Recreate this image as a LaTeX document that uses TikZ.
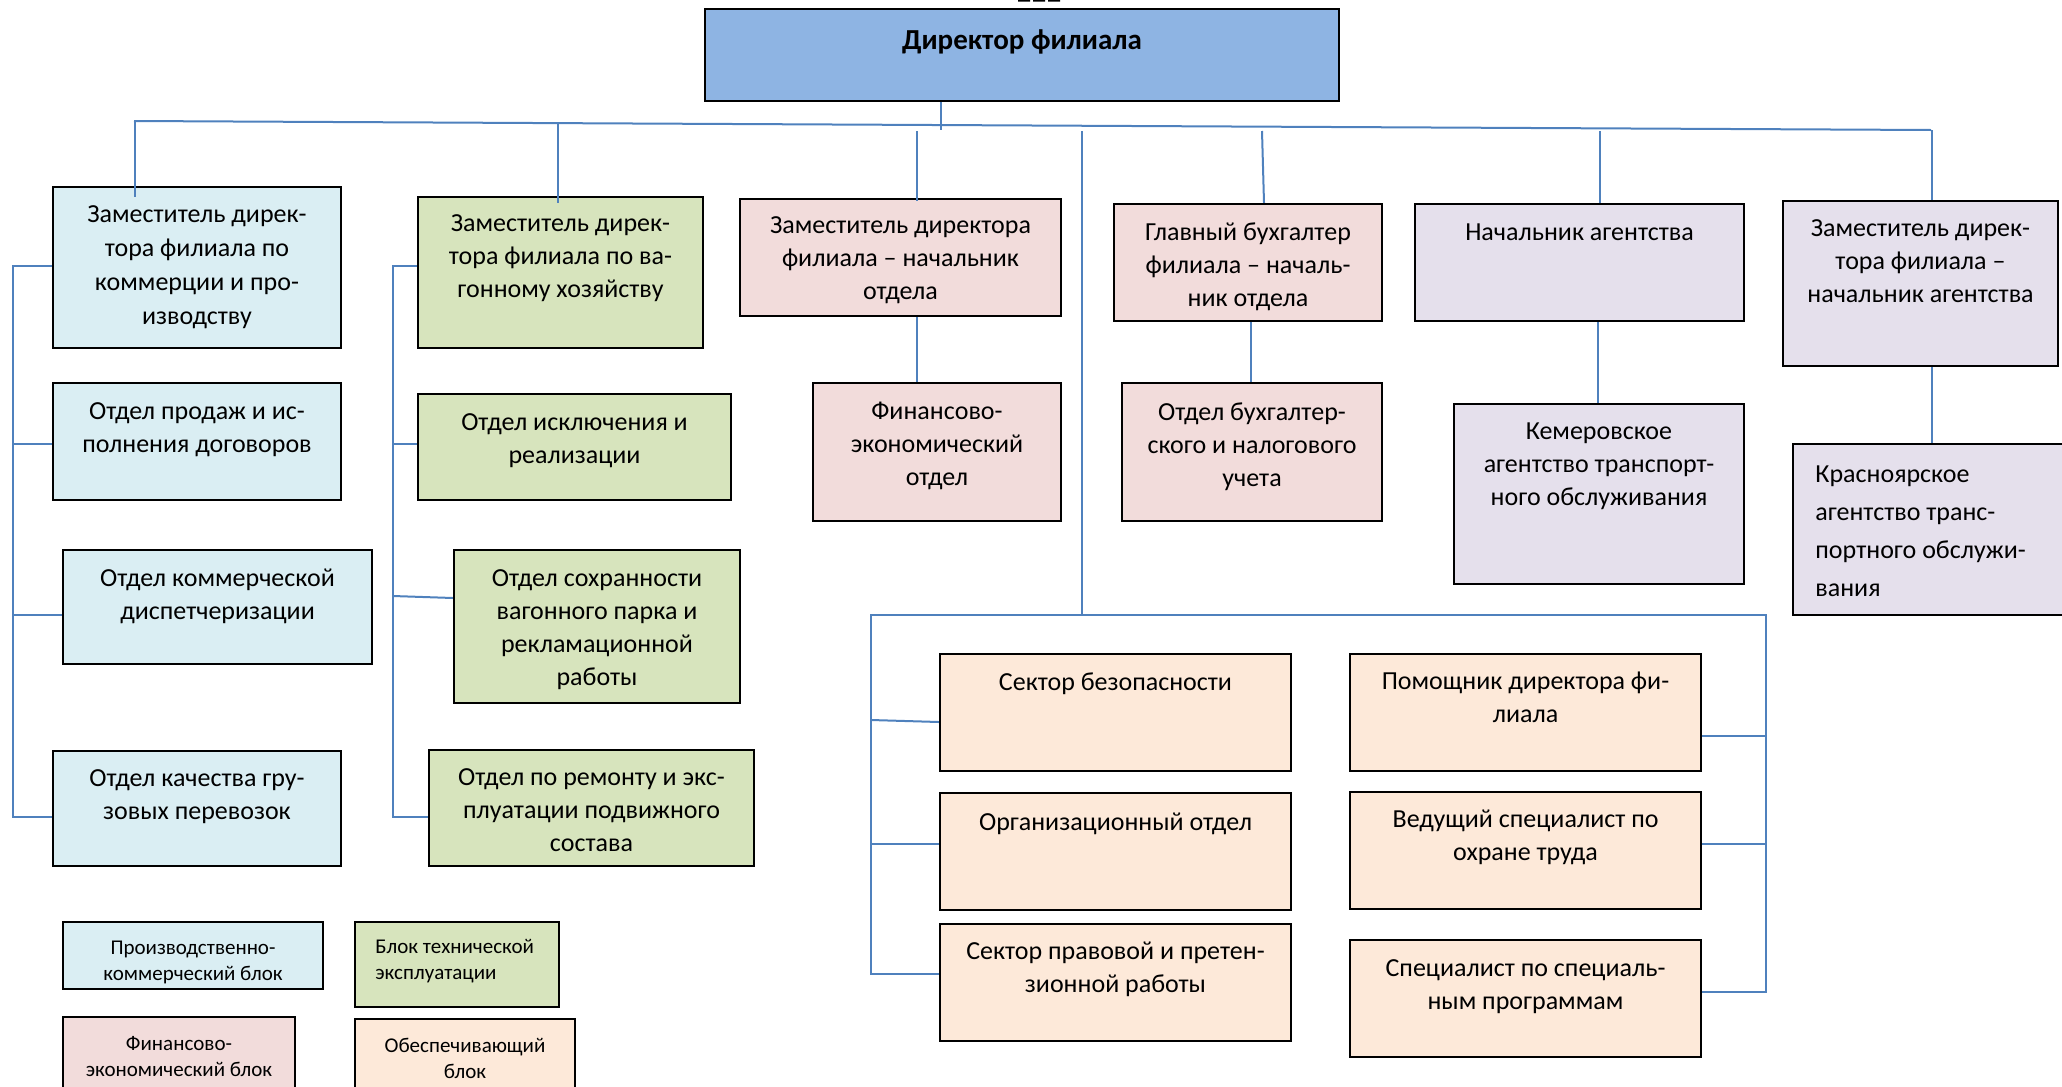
\documentclass[tikz,border=0pt]{standalone}
\usepackage{fontspec}
\setmainfont{Carlito}
\usetikzlibrary{fit}
\definecolor{lnc}{HTML}{4F81BD}
\definecolor{cdir}{HTML}{8EB4E3}
\definecolor{cblue}{HTML}{DAEEF3}
\definecolor{cgreen}{HTML}{D7E4BD}
\definecolor{cpink}{HTML}{F2DCDB}
\definecolor{clav}{HTML}{E5E0EC}
\definecolor{cpeach}{HTML}{FDE9D9}
\begin{document}
\begin{tikzpicture}[x=0.5pt,y=-0.5pt,
  bx/.style={draw=black, line width=1.2pt, inner sep=0pt},
  lg/.style={draw=black, line width=1pt, inner sep=0pt},
  con/.style={draw=lnc, line width=1pt},
  txt/.style={anchor=north, inner sep=0pt, align=center,
    font=\fontsize{13}{16.5}\selectfont, execute at begin node={\rule{0pt}{9pt}}},
  txl/.style={txt, anchor=north west, align=left},
  ltxt/.style={anchor=north, inner sep=0pt, align=center,
    font=\fontsize{10.5}{12.8}\selectfont, execute at begin node={\rule{0pt}{7.5pt}}},
  ltxl/.style={ltxt, anchor=north west, align=left}]
\useasboundingbox (0,0) rectangle (2062,1087);
% page-number remnant at the top edge
\fill[black] (1018,0) rectangle (1030,1.5) (1033,0) rectangle (1045,1.5) (1048,0) rectangle (1060,1.5);

% ---------- boxes ----------
\node[bx, fill=cdir, fit={(705,9)(1339,101)}] (dir) {};
\node[bx, fill=cblue, fit={(53,187)(341,348)}] (b1) {};
\node[bx, fill=cgreen, fit={(418,197)(703,348)}] (b2) {};
\node[bx, fill=cpink, fit={(740,199)(1061,316)}] (b3) {};
\node[bx, fill=cpink, fit={(1114,204)(1382,321)}] (b4) {};
\node[bx, fill=clav, fit={(1415,204)(1744,321)}] (b5) {};
\node[bx, fill=clav, fit={(1783,201)(2058,366)}] (b6) {};

\node[bx, fill=cblue, fit={(53,383)(341,500)}] (c1) {};
\node[bx, fill=cblue, fit={(63,550)(372,664)}] (c2) {};
\node[bx, fill=cblue, fit={(53,751)(341,866)}] (c3) {};

\node[bx, fill=cgreen, fit={(418,394)(731,500)}] (d1) {};
\node[bx, fill=cgreen, fit={(454,550)(740,703)}] (d2) {};
\node[bx, fill=cgreen, fit={(429,750)(754,866)}] (d3) {};

\node[bx, fill=cpink, fit={(813,383)(1061,521)}] (fin) {};
\node[bx, fill=cpink, fit={(1122,383)(1382,521)}] (buh) {};
\node[bx, fill=clav, fit={(1454,404)(1744,584)}] (kem) {};
\node[bx, fill=clav, fit={(1793,444)(2075,615)}] (kras) {};

\node[bx, fill=cpeach, fit={(940,654)(1291,771)}] (e1) {};
\node[bx, fill=cpeach, fit={(940,793)(1291,910)}] (e2) {};
\node[bx, fill=cpeach, fit={(940,924)(1291,1041)}] (e3) {};
\node[bx, fill=cpeach, fit={(1350,654)(1701,771)}] (f1) {};
\node[bx, fill=cpeach, fit={(1350,792)(1701,909)}] (f2) {};
\node[bx, fill=cpeach, fit={(1350,940)(1701,1057)}] (f3) {};

\node[lg, fill=cblue, fit={(63,922)(323,989)}] (l1) {};
\node[lg, fill=cgreen, fit={(355,922)(559,1007)}] (l2) {};
\node[lg, fill=cpink, fit={(63,1017)(295,1100)}] (l3) {};
\node[lg, fill=cpeach, fit={(355,1019)(575,1100)}] (l4) {};

% ---------- texts ----------
\node[txt, font=\fontsize{14.5}{17}\selectfont\bfseries] (dirt) at (1022,29) {Директор филиала};
\node[txt, font=\fontsize{13}{17}\selectfont] (b1t) at (197,205) {Заместитель дирек-\\тора филиала по\\коммерции и про-\\изводству};
\node[txt] (b2t) at (560.5,214) {Заместитель дирек-\\тора филиала по ва-\\гонному хозяйству};
\node[txt] (b3t) at (900.5,216) {Заместитель директора\\филиала – начальник\\отдела};
\node[txt] (b4t) at (1248,222) {Главный бухгалтер\\филиала – началь-\\ник отдела};
\node[txt] (b5t) at (1579.5,222) {Начальник агентства};
\node[txt] (b6t) at (1920.5,219) {Заместитель дирек-\\тора филиала –\\начальник агентства};

\node[txt] (c1t) at (197,402) {Отдел продаж и ис-\\полнения договоров};
\node[txt] (c2t) at (217.5,569) {Отдел коммерческой\\диспетчеризации};
\node[txt] (c3t) at (197,769) {Отдел качества гру-\\зовых перевозок};

\node[txt] (d1t) at (574.5,413) {Отдел исключения и\\реализации};
\node[txt] (d2t) at (597,569) {Отдел сохранности\\вагонного парка и\\рекламационной\\работы};
\node[txt] (d3t) at (591.5,768) {Отдел по ремонту и экс-\\плуатации подвижного\\состава};

\node[txt] (fint) at (937,402) {Финансово-\\экономический\\отдел};
\node[txt] (buht) at (1252,402) {Отдел бухгалтер-\\ского и налогового\\учета};
\node[txt] (kemt) at (1599,422) {Кемеровское\\агентство транспорт-\\ного обслуживания};
\node[txl, font=\fontsize{13}{19}\selectfont] (krast) at (1815,465) {Красноярское\\агентство транс-\\портного обслужи-\\вания};

\node[txt] (e1t) at (1115.5,672) {Сектор безопасности};
\node[txt] (e2t) at (1115.5,812) {Организационный отдел};
\node[txt] (e3t) at (1115.5,942) {Сектор правовой и претен-\\зионной работы};
\node[txt] (f1t) at (1525.5,672) {Помощник директора фи-\\лиала};
\node[txt] (f2t) at (1525.5,810) {Ведущий специалист по\\охране труда};
\node[txt] (f3t) at (1525.5,959) {Специалист по специаль-\\ным программам};

\node[ltxt] (l1t) at (193,941) {Производственно-\\коммерческий блок};
\node[ltxl] (l2t) at (375,939) {Блок технической\\эксплуатации};
\node[ltxt] (l3t) at (179,1036) {Финансово-\\экономический блок};
\node[ltxt] (l4t) at (465,1038) {Обеспечивающий\\блок};

% ---------- connectors ----------
\coordinate (busL) at (134,121);
\coordinate (busR) at (1931,130);
\draw[con] (busL) -- (busR);
\draw[con] (dir.south -| 941,0) -- (941,130);
% drops from the main bus
\coordinate (t1) at (135,121);
\coordinate (t2) at (558,123);
\coordinate (t3) at (917,131);
\coordinate (t4) at (1082,131);
\coordinate (t5) at (1262,131);
\coordinate (t6) at (1600,131);
\coordinate (t7) at (1932,130);
\draw[con] (t1) -- (t1 |- b1.north) -- ++(0,11);
\draw[con] (t2) -- (t2 |- b2.north) -- ++(0,7);
\draw[con] (t3) -- (t3 |- b3.north) -- ++(0,3);
\draw[con] (t5) -- (1264,0 |- b4.north);
\draw[con] (t6) -- (t6 |- b5.north);
\draw[con] (t7) -- (t7 |- b6.north);
% second level
\draw[con] (b3.south -| 917,0) -- (fin.north -| 917,0);
\draw[con] (b4.south -| 1251,0) -- (buh.north -| 1251,0);
\draw[con] (b5.south -| 1598,0) -- (kem.north -| 1598,0);
\draw[con] (b6.south -| 1932,0) -- (kras.north -| 1932,0);
% left (commercial) bus
\coordinate (lb1) at (13,266);
\coordinate (lb2) at (13,817);
\draw[con] (b1.west |- lb1) -- (lb1) -- (lb2) -- (c3.west |- lb2);
\draw[con] (13,444) -- (c1.west |- 13,444);
\draw[con] (13,615) -- (c2.west |- 13,615);
% green bus
\coordinate (gb1) at (393,266);
\coordinate (gb2) at (393,817);
\draw[con] (b2.west |- gb1) -- (gb1) -- (gb2) -- (d3.west |- gb2);
\draw[con] (393,444) -- (d1.west |- 393,444);
\draw[con] (393,596) -- (d2.west |- 393,598);
% support bus
\coordinate (sbL) at (871,615);
\coordinate (sbR) at (1766,615);
\draw[con] (t4) -- (t4 |- sbL);
\draw[con] (e3.west |- 871,974) -- (871,974) -- (sbL) -- (sbR) -- (1766,992) -- (f3.east |- 1766,992);
\draw[con] (871,720) -- (e1.west |- 871,722);
\draw[con] (871,844) -- (e2.west |- 871,844);
\draw[con] (1766,736) -- (f1.east |- 1766,736);
\draw[con] (1766,844) -- (f2.east |- 1766,844);
\end{tikzpicture}
\end{document}
